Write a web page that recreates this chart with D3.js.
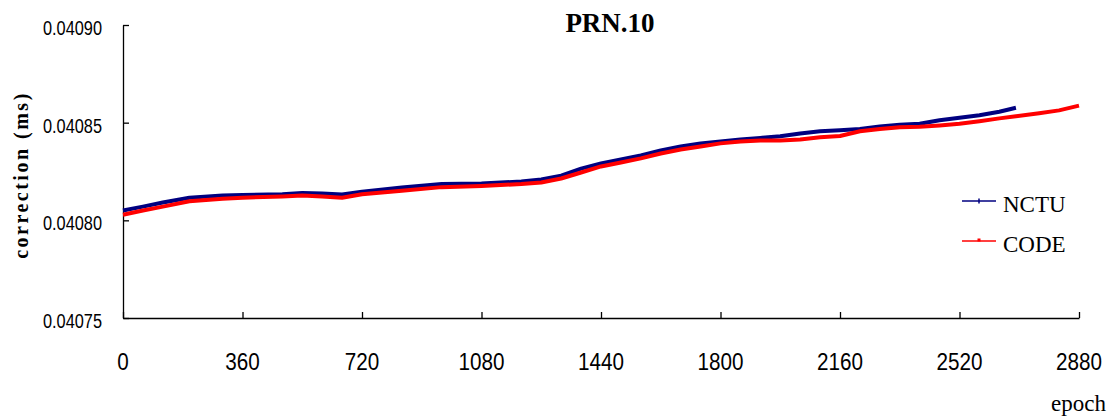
<!DOCTYPE html>
<html><head><meta charset="utf-8">
<script src="https://cdn.jsdelivr.net/npm/d3@7"></script>
<style>
html,body{margin:0;padding:0;background:#fff;}
svg{display:block;}
.num{font-family:"Liberation Sans","Arial",sans-serif;fill:#000;}
.ser{font-family:"Liberation Serif","Times New Roman",serif;fill:#000;}
</style></head><body>
<svg id="c" width="1112" height="417"></svg>
<script>
const epochs = [0,60,120,200,300,360,480,540,600,660,720,840,960,1080,1200,1260,1320,1380,1440,1500,1560,1620,1680,1740,1800,1860,1920,1980,2040,2100,2160,2220,2280,2340,2400,2460,2520,2580,2640,2690];
const nctu = [0.0408050,0.0408070,0.0408091,0.0408116,0.0408127,0.0408130,0.0408134,0.0408140,0.0408137,0.0408132,0.0408147,0.0408168,0.0408186,0.0408188,0.0408199,0.0408209,0.0408229,0.0408265,0.0408291,0.0408312,0.0408332,0.0408358,0.0408378,0.0408394,0.0408404,0.0408414,0.0408422,0.0408430,0.0408445,0.0408456,0.0408461,0.0408468,0.0408481,0.0408489,0.0408494,0.0408512,0.0408525,0.0408538,0.0408556,0.0408576];
const codeEpochs = [0,60,120,200,300,360,480,540,600,660,720,840,960,1080,1200,1260,1320,1380,1440,1500,1560,1620,1680,1740,1800,1860,1920,1980,2040,2100,2160,2220,2280,2340,2400,2460,2520,2580,2640,2690,2760,2820,2880];
const code = [0.0408029,0.0408050,0.0408070,0.0408098,0.0408111,0.0408116,0.0408122,0.0408127,0.0408122,0.0408116,0.0408134,0.0408152,0.0408170,0.0408176,0.0408186,0.0408194,0.0408214,0.0408245,0.0408276,0.0408296,0.0408317,0.0408342,0.0408363,0.0408378,0.0408394,0.0408404,0.0408409,0.0408409,0.0408414,0.0408425,0.0408432,0.0408456,0.0408468,0.0408476,0.0408479,0.0408486,0.0408494,0.0408507,0.0408522,0.0408533,0.0408548,0.0408563,0.0408587];
const xTicks = [0,360,720,1080,1440,1800,2160,2520,2880];
const yTicks = [0.04075,0.04080,0.04085,0.04090];
const yTickLabels = ["0.04075","0.04080","0.04085","0.04090"];
const seriesNames = ["NCTU","CODE"];
const seriesColors = ["#000080","#ff0000"];

const svg = d3.select("#c");
const x = d3.scaleLinear().domain([0,2880]).range([123,1079]);
const y = d3.scaleLinear().domain([0.04075,0.04090]).range([318,25]);

// axes
const xAxis = d3.axisBottom(x).tickValues(xTicks).tickSize(-6).tickFormat("").tickSizeOuter(0);
const gx = svg.append("g").attr("transform","translate(0,318)").call(xAxis);
const yAxis = d3.axisLeft(y).tickValues(yTicks).tickSize(-6).tickFormat("").tickSizeOuter(0);
const gy = svg.append("g").attr("transform","translate(123,0)").call(yAxis);
[gx,gy].forEach(g=>{g.selectAll("path,line").attr("stroke","#000").attr("stroke-width",1.3);});

svg.append("g").selectAll("text").data(xTicks).join("text")
  .attr("class","num").attr("x",d=>x(d)).attr("y",370)
  .attr("text-anchor","middle").attr("font-size",24)
  .attr("textLength",d=>String(d).length*11.5).attr("lengthAdjust","spacingAndGlyphs")
  .text(d=>d);
svg.append("g").selectAll("text").data(yTicks).join("text")
  .attr("class","num").attr("x",102).attr("y",d=>y(d)+10)
  .attr("text-anchor","end").attr("font-size",20)
  .attr("textLength",59).attr("lengthAdjust","spacingAndGlyphs")
  .text((d,i)=>yTickLabels[i]);

// lines
const line = d3.line().x(d=>x(d[0])).y(d=>y(d[1]));
const dN = epochs.map((e,i)=>[e,nctu[i]]);
const dC = codeEpochs.map((e,i)=>[e,code[i]]);
svg.append("path").datum(dN).attr("d",line).attr("fill","none")
  .attr("stroke",seriesColors[0]).attr("stroke-width",4).attr("stroke-linejoin","round");
svg.append("path").datum(dC).attr("d",line).attr("fill","none")
  .attr("stroke",seriesColors[1]).attr("stroke-width",4).attr("stroke-linejoin","round");

// title
svg.append("text").attr("class","ser").attr("x",610).attr("y",32)
  .attr("text-anchor","middle").attr("font-size",27).attr("font-weight","bold").text("PRN.10");
// y label
svg.append("text").attr("class","ser").attr("transform","translate(28,175) rotate(-90)")
  .attr("text-anchor","middle").attr("font-size",20).attr("font-weight","bold")
  .attr("letter-spacing",2.5).text("correction (ms)");
// x label
svg.append("text").attr("class","ser").attr("x",1106).attr("y",411)
  .attr("text-anchor","end").attr("font-size",23).text("epoch");

// legend
const lg = svg.append("g");
seriesNames.forEach((n,i)=>{
  const yy = 201 + i*40;
  lg.append("line").attr("x1",962).attr("x2",996).attr("y1",yy).attr("y2",yy)
    .attr("stroke",seriesColors[i]).attr("stroke-width",1.5);
  if(i===0){
    lg.append("line").attr("x1",979).attr("x2",979).attr("y1",yy-2.5).attr("y2",yy+2.5)
      .attr("stroke",seriesColors[i]).attr("stroke-width",1.5);
  } else {
    lg.append("rect").attr("x",977.5).attr("y",yy-2.5).attr("width",3).attr("height",3)
      .attr("fill",seriesColors[i]);
  }
  lg.append("text").attr("class","ser").attr("x",1003).attr("y",yy+11)
    .attr("font-size",23).text(n);
});
</script>
</body></html>
